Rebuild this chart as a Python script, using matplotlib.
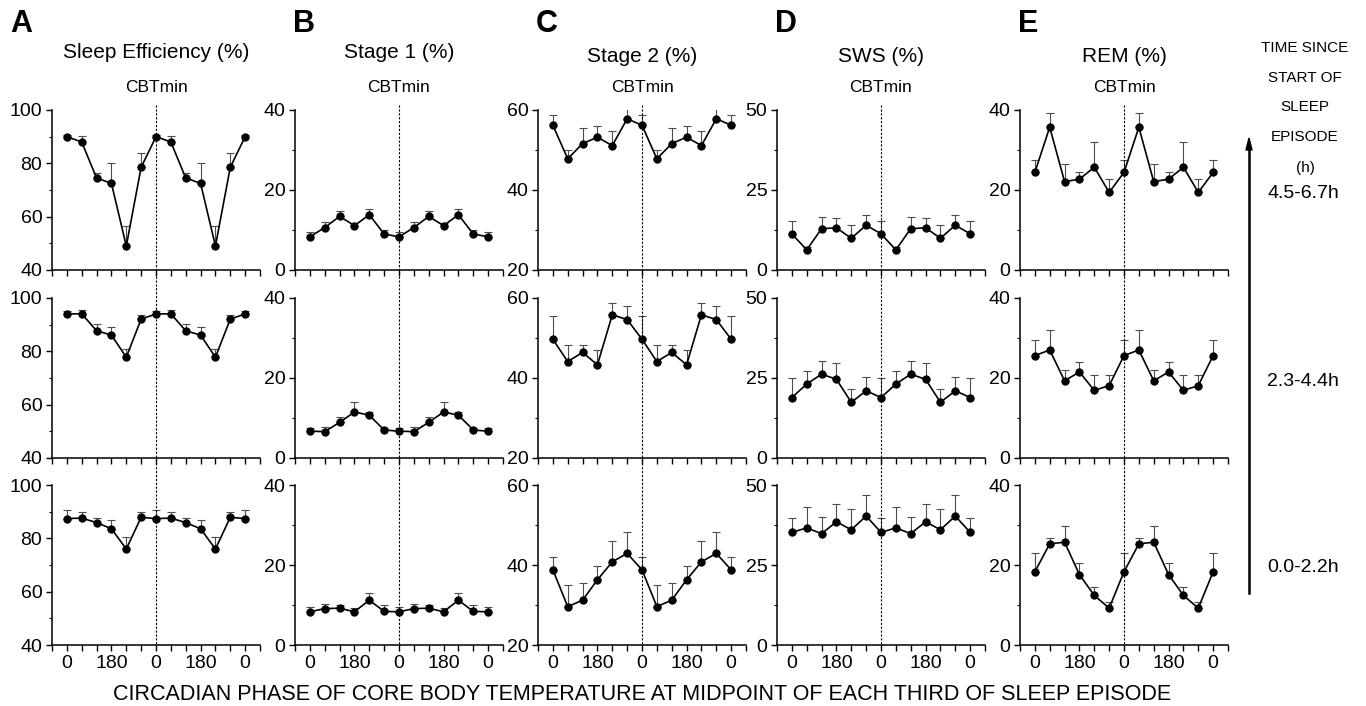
import matplotlib.pyplot as plt
from matplotlib.lines import Line2D
from matplotlib.transforms import blended_transform_factory

plt.rcParams['font.family'] = ['Liberation Sans', 'DejaVu Sans']

# phase of CBT (deg), double plotted: 0..360 then 360..720
phase = [0, 60, 120, 180, 240, 300, 360, 420, 480, 540, 600, 660, 720]
tick_pos = [0, 180, 360, 540, 720]
tick_txt = ['0', '180', '0', '180', '0']

# rows = thirds of sleep episode (top: 4.5-6.7h, mid: 2.3-4.4h, bottom: 0.0-2.2h)
# six phase bins each (0, 60, ..., 300 deg)
se_mean = [[90.0, 88.0, 74.5, 72.5, 49.0, 78.5],
           [94.0, 94.1, 87.7, 86.1, 77.8, 92.1],
           [87.4, 87.6, 85.9, 83.6, 76.0, 87.9]]
se_err = [[0.8, 2.3, 1.8, 7.5, 7.5, 5.2],
          [1.0, 1.3, 2.5, 2.9, 3.1, 1.6],
          [3.3, 2.2, 1.9, 3.3, 4.4, 2.1]]

s1_mean = [[8.3, 10.6, 13.4, 11.1, 13.8, 9.0],
           [6.7, 6.6, 8.9, 11.5, 10.7, 7.0],
           [8.3, 9.1, 9.2, 8.3, 11.2, 8.4]]
s1_err = [[1.2, 1.5, 1.3, 0.6, 1.5, 1.0],
          [0.8, 1.1, 1.4, 2.4, 0.7, 0.4],
          [1.3, 1.2, 0.8, 1.0, 1.7, 1.5]]

s2_mean = [[56.2, 47.8, 51.6, 53.2, 51.1, 57.8],
           [49.7, 44.1, 46.4, 43.3, 55.8, 54.6],
           [38.8, 29.6, 31.2, 36.3, 40.8, 42.9]]
s2_err = [[2.6, 2.2, 3.8, 2.9, 3.6, 2.6],
          [5.8, 4.2, 1.9, 3.8, 3.0, 3.5],
          [3.1, 5.3, 4.4, 3.4, 5.3, 5.4]]

sws_mean = [[11.3, 6.3, 12.9, 13.2, 9.9, 14.0],
            [18.9, 23.1, 26.2, 24.6, 17.4, 21.0],
            [35.2, 36.6, 34.8, 38.5, 36.0, 40.3]]
sws_err = [[4.0, 0.8, 3.8, 3.0, 4.2, 3.3],
           [6.0, 4.0, 4.2, 5.2, 4.1, 4.3],
           [4.5, 6.5, 5.3, 5.5, 6.6, 6.6]]

rem_mean = [[24.4, 35.7, 22.1, 22.7, 25.7, 19.4],
            [25.6, 27.0, 19.3, 21.5, 16.9, 18.1],
            [18.3, 25.3, 25.7, 17.6, 12.4, 9.2]]
rem_err = [[3.0, 3.5, 4.5, 1.9, 6.4, 3.4],
           [4.0, 5.0, 2.8, 2.6, 3.9, 2.7],
           [4.8, 1.4, 4.1, 2.8, 2.0, 1.6]]

letters = ['A', 'B', 'C', 'D', 'E']
titles = ['Sleep Efficiency (%)', 'Stage 1 (%)', 'Stage 2 (%)', 'SWS (%)', 'REM (%)']
means = [se_mean, s1_mean, s2_mean, sws_mean, rem_mean]
errs = [se_err, s1_err, s2_err, sws_err, rem_err]
ylims = [(40, 100), (0, 40), (20, 60), (0, 50), (0, 40)]
yticks = [[40, 60, 80, 100], [0, 20, 40], [20, 40, 60], [0, 25, 50], [0, 20, 40]]
row_labels = ['4.5-6.7h', '2.3-4.4h', '0.0-2.2h']
side_lines = ['TIME SINCE', 'START OF', 'SLEEP', 'EPISODE', '(h)']

W, H = 1366, 706
col_left = [52, 295, 538, 777, 1020]
row_top = [110, 298, 485]
aw, ah = 208, 160

fig = plt.figure(figsize=(W / 100, H / 100), dpi=100)

def fx(x):
    return x / W

def fy(y):
    return 1 - y / H

for c in range(5):
    for r in range(3):
        ax = fig.add_axes([fx(col_left[c]), fy(row_top[r] + ah), aw / W, ah / H])
        m = means[c][r]
        e = errs[c][r]
        y = m + m + m[:1]
        ye = e + e + e[:1]
        ax.errorbar(phase, y, yerr=[[0] * len(ye), ye], fmt='none', ecolor='0.3',
                    elinewidth=0.8, capsize=3, capthick=0.8, zorder=2)
        ax.plot(phase, y, color='black', lw=1.2, marker='o', ms=5, zorder=3)
        ax.set_xlim(-60, 780)
        ax.set_ylim(*ylims[c])
        ax.set_yticks(yticks[c])
        step = yticks[c][1] - yticks[c][0]
        ax.set_yticks([v + step / 2 for v in yticks[c][:-1]], minor=True)
        ax.set_xticks(range(-60, 781, 60))
        if r == 2:
            ax.set_xticklabels(['' if p not in tick_pos else tick_txt[tick_pos.index(p)]
                                for p in range(-60, 781, 60)])
        else:
            ax.set_xticklabels([])
        for s in ['top', 'right']:
            ax.spines[s].set_visible(False)
        for s in ['left', 'bottom']:
            ax.spines[s].set_linewidth(1.1)
        ax.tick_params(axis='both', which='major', direction='out', length=4, width=1,
                       labelsize=14, pad=3)
        ax.tick_params(axis='y', which='minor', direction='out', length=2, width=0.8)
        ax.patch.set_alpha(0)
        if r == 0:
            top_ax = ax
    # CBTmin dashed line through whole column
    tr = blended_transform_factory(top_ax.transData, fig.transFigure)
    fig.add_artist(Line2D([360, 360], [fy(105), fy(645)], transform=tr, color='black',
                          lw=0.8, ls=(0, (2, 1.5))))
    cx = col_left[c] + aw / 2
    fig.text(fx(cx), fy(87), 'CBTmin', ha='center', va='center', fontsize=12.5)
    fig.text(fx(cx), fy(53 if c < 2 else 57), titles[c], ha='center', va='center', fontsize=15)
    fig.text(fx(10 if c == 0 else col_left[c] - 2), fy(24), letters[c], ha='left', va='center',
             fontsize=22, fontweight='bold')

fig.text(fx(642), fy(695), 'CIRCADIAN PHASE OF CORE BODY TEMPERATURE AT MIDPOINT OF EACH THIRD OF SLEEP EPISODE',
         ha='center', va='center', fontsize=15.5)

# right side annotation
for i, t in enumerate(side_lines):
    fig.text(fx(1305), fy([48, 78, 107, 137, 168][i]), t, ha='center', va='center', fontsize=11)
for r, lab in enumerate(row_labels):
    fig.text(fx(1303), fy(row_top[r] + 83), lab, ha='center', va='center', fontsize=14)
fig.add_artist(plt.Line2D([fx(1249), fx(1249)], [fy(593), fy(150)], color='black', lw=1.8))
fig.patches.append(plt.Polygon([[fx(1246), fy(150)], [fx(1252), fy(150)], [fx(1249), fy(138)]],
                               closed=True, color='black', transform=fig.transFigure, figure=fig))

fig.savefig('out.png', dpi=100)
